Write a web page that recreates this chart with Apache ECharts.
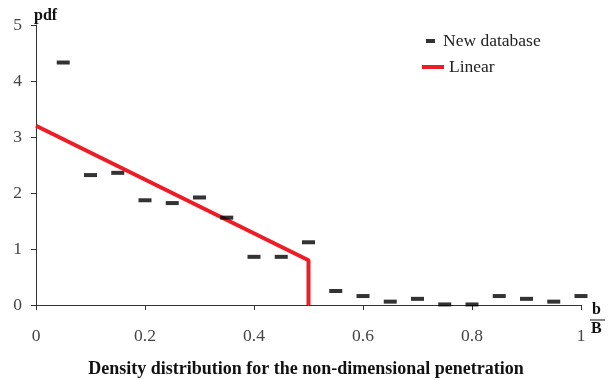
<!DOCTYPE html>
<html><head><meta charset="utf-8">
<script src="https://cdn.jsdelivr.net/npm/echarts@6/dist/echarts.min.js"></script>
<style>html,body{margin:0;padding:0;background:#fff}#c{width:612px;height:380px}</style>
</head><body><div id="c"></div>
<script>
const dbX = [0.05,0.1,0.15,0.2,0.25,0.3,0.35,0.4,0.45,0.5,0.55,0.6,0.65,0.7,0.75,0.8,0.85,0.9,0.95,1.0];
const dbY = [4.33,2.32,2.36,1.87,1.82,1.92,1.56,0.86,0.86,1.12,0.25,0.16,0.06,0.11,0.01,0.01,0.16,0.11,0.06,0.16];
const linX = [0,0.5,0.5];
const linY = [3.2,0.8,0];
const xTicks = ['0','0.2','0.4','0.6','0.8','1'];
const serif = '"Liberation Serif","DejaVu Serif",serif';
const chart = echarts.init(document.getElementById('c'));
chart.setOption({
  animation:false,
  backgroundColor:'#fff',
  title:{text:'Density distribution for the non-dimensional penetration',left:'center',top:355,
    textStyle:{fontFamily:serif,fontSize:18,fontWeight:'bold',color:'#111'}},
  grid:{left:36,right:31,top:25,bottom:75},
  legend:[
    {data:['New database'],left:421,top:27,icon:'rect',itemWidth:9,itemHeight:4,itemGap:0,
     textStyle:{fontFamily:serif,fontSize:17.5,color:'#222',padding:[0,0,0,3]}},
    {data:['Linear'],left:417,top:53,icon:'rect',itemWidth:22,itemHeight:4,itemGap:0,
     textStyle:{fontFamily:serif,fontSize:17.5,color:'#222',padding:[0,0,0,0]}}
  ],
  xAxis:{type:'value',min:0,max:1,interval:0.2,
    axisLine:{lineStyle:{color:'#333',width:1}},
    axisTick:{show:true,length:5,lineStyle:{color:'#333'}},
    splitLine:{show:false},
    axisLabel:{margin:22,fontFamily:serif,fontSize:17.5,color:'#444',
      formatter:v=>xTicks[Math.round(v/0.2)]}},
  yAxis:{type:'value',min:0,max:5,interval:1,name:'pdf',nameLocation:'end',nameGap:1,
    nameTextStyle:{fontFamily:serif,fontSize:16,fontWeight:'bold',color:'#111',align:'left',padding:[0,0,0,-2]},
    axisLine:{show:true,lineStyle:{color:'#333',width:1}},
    axisTick:{show:true,length:5,lineStyle:{color:'#333'}},
    splitLine:{show:false},
    axisLabel:{margin:14,fontFamily:serif,fontSize:17.5,color:'#444'}},
  series:[
    {name:'Linear',type:'line',data:linX.map((x,i)=>[x,linY[i]]),symbol:'none',
     lineStyle:{color:'#ee1c25',width:4},itemStyle:{color:'#ee1c25'},z:2},
    {name:'New database',type:'scatter',data:dbX.map((x,i)=>[x,dbY[i]]),symbol:'rect',symbolSize:[13,4],
     itemStyle:{color:'#000'},z:3}
  ],
  graphic:[
    {type:'text',left:592,top:302,style:{text:'b',font:'bold 16px '+serif,fill:'#111'}},
    {type:'line',shape:{x1:590,y1:320,x2:605,y2:320},style:{stroke:'#111',lineWidth:1}},
    {type:'text',left:591,top:321,style:{text:'B',font:'bold 16px '+serif,fill:'#111'}}
  ]
});
</script></body></html>
